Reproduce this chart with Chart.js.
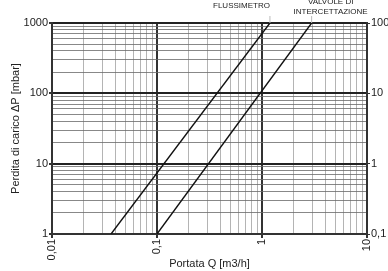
<!DOCTYPE html>
<html>
<head>
<meta charset="utf-8">
<script src="https://cdn.jsdelivr.net/npm/chart.js@4/dist/chart.umd.min.js"></script>
<style>
  html, body { margin: 0; padding: 0; background: #fff; }
</style>
</head>
<body>
<canvas id="grafico" width="388" height="271"></canvas>
<script>
// dati
const seriesNames = [['FLUSSIMETRO'], ['VALVOLE DI', 'INTERCETTAZIONE']];
const flussimetroQ = [0.0365, 1.19];
const flussimetroDP = [1, 1000];
const valvoleQ = [0.1, 2.97];
const valvoleDP = [1, 1000];

const xTicks = [0.01, 0.1, 1, 10];
const xTickLabels = ['0,01', '0,1', '1', '10'];
const yTicks = [1, 10, 100, 1000];
const yTickLabels = ['1', '10', '100', '1000'];
const y2Ticks = [0.1, 1, 10, 100];
const y2TickLabels = ['0,1', '1', '10', '100'];

const isDecade = v => Math.abs(Math.log10(v) - Math.round(Math.log10(v))) < 1e-9;

// tutte le linee 1..9 per ogni decade
function logTicks(min, max) {
    const out = [];
    for (let e = Math.round(Math.log10(min)); e < Math.round(Math.log10(max)); e++) {
        for (let k = 1; k < 10; k++) out.push({ value: k * Math.pow(10, e) });
    }
    out.push({ value: max });
    return out;
}

function labelFrom(ticks, labels) {
    return function (value) {
        const i = ticks.findIndex(t => Math.abs(t - value) / t < 1e-9);
        return i >= 0 ? labels[i] : '';
    };
}

// etichette delle curve sopra il grafico
const curveLabels = {
    id: 'curveLabels',
    afterDatasetsDraw(chart, args, opts) {
        const { ctx, chartArea } = chart;
        ctx.save();
        ctx.font = '8px "Liberation Sans", Arial, sans-serif';
        ctx.fillStyle = '#222';
        ctx.textBaseline = 'middle';
        chart.data.datasets.forEach((ds, i) => {
            const meta = chart.getDatasetMeta(i);
            const last = meta.data[meta.data.length - 1];
            const cfg = opts.place[i];
            ctx.strokeStyle = '#bbb';
            ctx.lineWidth = 1;
            ctx.beginPath();
            ctx.moveTo(last.x, chartArea.top);
            ctx.lineTo(last.x, chartArea.top - 7);
            ctx.stroke();
            ctx.textAlign = cfg.align;
            seriesNames[i].forEach((t, j) => {
                ctx.fillText(t, last.x + cfg.dx, cfg.y[j]);
            });
        });
        ctx.restore();
    }
};

Chart.defaults.font.family = '"Liberation Sans", Arial, sans-serif';
Chart.defaults.font.size = 11;
Chart.defaults.color = '#222';

new Chart(document.getElementById('grafico').getContext('2d'), {
    type: 'scatter',
    data: {
        datasets: [
            {
                label: seriesNames[0].join(' '),
                data: flussimetroQ.map((q, i) => ({ x: q, y: flussimetroDP[i] })),
                showLine: true,
                borderColor: '#111',
                borderWidth: 1.4,
                pointRadius: 0
            },
            {
                label: seriesNames[1].join(' '),
                data: valvoleQ.map((q, i) => ({ x: q, y: valvoleDP[i] })),
                showLine: true,
                borderColor: '#111',
                borderWidth: 1.4,
                pointRadius: 0
            }
        ]
    },
    options: {
        responsive: false,
        animation: false,
        layout: { padding: { top: 23, left: 0, right: 0, bottom: 0 } },
        plugins: {
            legend: { display: false },
            tooltip: { enabled: false },
            curveLabels: {
                place: [
                    { align: 'right', dx: 0, y: [6] },
                    { align: 'center', dx: 19, y: [2, 12] }
                ]
            }
        },
        scales: {
            x: {
                type: 'logarithmic',
                position: 'bottom',
                min: 0.01,
                max: 10,
                afterBuildTicks: s => { s.ticks = logTicks(0.01, 10); },
                afterFit: s => { s.height = 37; },
                ticks: {
                    autoSkip: false,
                    minRotation: 90,
                    maxRotation: 90,
                    padding: 1,
                    callback: labelFrom(xTicks, xTickLabels)
                },
                grid: {
                    color: c => isDecade(c.tick.value) ? '#333' : '#b4b4b4',
                    lineWidth: c => isDecade(c.tick.value) ? 2 : 1,
                    tickColor: c => isDecade(c.tick.value) ? '#333' : 'transparent',
                    tickLength: 4
                },
                border: { color: '#333', width: 2 },
                title: {
                    display: true,
                    text: 'Portata Q [m3/h]',
                    padding: { top: 1, bottom: 0 }
                }
            },
            y: {
                type: 'logarithmic',
                position: 'left',
                min: 1,
                max: 1000,
                afterBuildTicks: s => { s.ticks = logTicks(1, 1000); },
                afterFit: s => { s.width = 52; },
                ticks: {
                    autoSkip: false,
                    padding: 1,
                    callback: labelFrom(yTicks, yTickLabels)
                },
                grid: {
                    color: c => isDecade(c.tick.value) ? '#222' : '#6a6a6a',
                    lineWidth: c => isDecade(c.tick.value) ? 2 : 0.8,
                    tickColor: c => isDecade(c.tick.value) ? '#333' : 'transparent',
                    tickLength: 3
                },
                border: { color: '#333', width: 2 },
                title: {
                    display: true,
                    text: 'Perdita di carico ΔP [mbar]',
                    padding: { top: 9, bottom: 0 }
                }
            },
            y2: {
                type: 'logarithmic',
                position: 'right',
                min: 0.1,
                max: 100,
                afterBuildTicks: s => { s.ticks = logTicks(0.1, 100); },
                afterFit: s => { s.width = 21; },
                ticks: {
                    autoSkip: false,
                    padding: 1,
                    callback: labelFrom(y2Ticks, y2TickLabels)
                },
                grid: {
                    drawOnChartArea: false,
                    tickColor: c => isDecade(c.tick.value) ? '#333' : 'transparent',
                    tickLength: 3
                },
                border: { color: '#333', width: 2 }
            }
        }
    },
    plugins: [curveLabels]
});
</script>
</body>
</html>
